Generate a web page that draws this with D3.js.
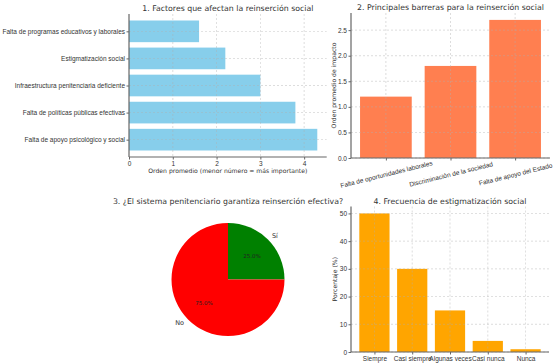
<!DOCTYPE html>
<html>
<head>
<meta charset="utf-8">
<script src="https://cdnjs.cloudflare.com/ajax/libs/d3/7.8.5/d3.min.js"></script>
<style>
    body { margin: 0; padding: 0; background: #fff; }
    svg { font-family: "DejaVu Sans", sans-serif; }
    .grid line { stroke: #b0b0b0; stroke-dasharray: 2,2; stroke-width: 0.6; opacity: 0.7; }
    .axis path, .axis line { stroke: #666; }
    .axis text { fill: #333; font-size: 6.5px; }
    .title { fill: #333; font-size: 7.8px; text-anchor: middle; }
    .label { fill: #333; font-size: 6.1px; text-anchor: middle; }
</style>
</head>
<body>
<script>
// 1. factores (top to bottom)
var factores = ["Falta de programas educativos y laborales", "Estigmatización social",
    "Infraestructura penitenciaria deficiente", "Falta de políticas públicas efectivas",
    "Falta de apoyo psicológico y social"];
var ordenFactores = [1.6, 2.2, 3.0, 3.8, 4.3];
var ticksFactores = [0, 1, 2, 3, 4];

// 2. barreras
var barreras = ["Falta de oportunidades laborales", "Discriminación de la sociedad", "Falta de apoyo del Estado"];
var impacto = [1.2, 1.8, 2.7];
var ticksImpacto = [0, 0.5, 1, 1.5, 2, 2.5];

// 3. pie
var respuestas = ["Sí", "No"];
var porcentajes = [25, 75];

// 4. frecuencia
var frecuencias = ["Siempre", "Casi siempre", "Algunas veces", "Casi nunca", "Nunca"];
var porcentajeFrec = [50, 30, 15, 4, 1];
var ticksFrec = [0, 10, 20, 30, 40, 50];

var W = 555, H = 363;
var svg = d3.select("body").append("svg").attr("width", W).attr("height", H);

function spines(g, x0, x1, y0, y1) {
    g.append("line").attr("x1", x0).attr("x2", x0).attr("y1", y0).attr("y2", y1)
        .attr("stroke", "#666").attr("stroke-width", 1.2);
    g.append("line").attr("x1", x0).attr("x2", x1).attr("y1", y1).attr("y2", y1)
        .attr("stroke", "#666").attr("stroke-width", 1.2);
}

// ---------- panel 1 ----------
(function() {
    var L = 129, R = 326.7, T = 14, B = 157;
    var g = svg.append("g");
    var x = d3.scaleLinear().domain([0, 4.3 * 1.05]).range([L, R]);
    var y = d3.scaleLinear().domain([-0.64, 4.64]).range([T, B]);
    var idx = d3.range(factores.length);

    g.selectAll("rect").data(idx).enter().append("rect")
        .attr("x", x(0))
        .attr("y", function(i) { return y(i - 0.4); })
        .attr("width", function(i) { return x(ordenFactores[i]) - x(0); })
        .attr("height", function(i) { return y(i + 0.4) - y(i - 0.4); })
        .attr("fill", "#87CEEB");

    var grid = g.append("g").attr("class", "grid");
    grid.selectAll(".v").data(ticksFactores.slice(1)).enter().append("line")
        .attr("x1", x).attr("x2", x).attr("y1", T).attr("y2", B);
    grid.selectAll(".h").data(idx).enter().append("line")
        .attr("x1", L).attr("x2", R).attr("y1", y).attr("y2", y);

    g.append("g").attr("class", "axis").attr("transform", "translate(0," + B + ")")
        .call(d3.axisBottom(x).tickValues(ticksFactores).tickFormat(d3.format("d")).tickSize(2.5).tickPadding(1.5))
        .select(".domain").remove();
    g.append("g").attr("class", "axis").attr("transform", "translate(" + L + ",0)")
        .call(d3.axisLeft(y).tickValues(idx).tickFormat(function(i) { return factores[i]; })
            .tickSize(2.5).tickPadding(1.5))
        .select(".domain").remove();
    spines(g, L, R, T, B);

    g.append("text").attr("class", "title").attr("x", (L + R) / 2).attr("y", 11)
        .text("1. Factores que afectan la reinserción social");
    g.append("text").attr("class", "label").attr("x", (L + R) / 2).attr("y", 173)
        .text("Orden promedio (menor número = más importante)");
})();

// ---------- panel 2 ----------
(function() {
    var L = 351, R = 550, T = 13, B = 158;
    var g = svg.append("g");
    var x = d3.scaleLinear().domain([-0.54, 2.54]).range([L, R]);
    var y = d3.scaleLinear().domain([0, 2.7 * 1.05]).range([B, T]);
    var idx = d3.range(barreras.length);

    g.selectAll("rect").data(idx).enter().append("rect")
        .attr("x", function(i) { return x(i - 0.4); })
        .attr("y", function(i) { return y(impacto[i]); })
        .attr("width", function(i) { return x(i + 0.4) - x(i - 0.4); })
        .attr("height", function(i) { return y(0) - y(impacto[i]); })
        .attr("fill", "#FF7F50");

    var grid = g.append("g").attr("class", "grid");
    grid.selectAll(".v").data(idx).enter().append("line")
        .attr("x1", x).attr("x2", x).attr("y1", T).attr("y2", B);
    grid.selectAll(".h").data(ticksImpacto).enter().append("line")
        .attr("x1", L).attr("x2", R).attr("y1", y).attr("y2", y);

    g.append("g").attr("class", "axis").attr("transform", "translate(" + L + ",0)")
        .call(d3.axisLeft(y).tickValues(ticksImpacto).tickFormat(d3.format(".1f")).tickSize(2.5).tickPadding(1.5))
        .select(".domain").remove();
    var xa = g.append("g").attr("class", "axis").attr("transform", "translate(0," + B + ")")
        .call(d3.axisBottom(x).tickValues(idx).tickFormat(function(i) { return barreras[i]; })
            .tickSize(2.5).tickPadding(1.5));
    xa.select(".domain").remove();
    xa.selectAll("text")
        .attr("y", 0).attr("dy", 0)
        .attr("dominant-baseline", "central")
        .attr("transform", "translate(0,16) rotate(-14)");
    spines(g, L, R, T, B);

    g.append("text").attr("class", "title").attr("x", (L + R) / 2).attr("y", 10)
        .text("2. Principales barreras para la reinserción social");
    g.append("text").attr("class", "label")
        .attr("transform", "translate(336," + ((T + B) / 2) + ") rotate(-90)")
        .text("Orden promedio de impacto");
})();

// ---------- panel 3 ----------
(function() {
    var cx = 228, cy = 279.5, r = 56.5;
    var g = svg.append("g").attr("transform", "translate(" + cx + "," + cy + ")");
    var colores = ["#008000", "#FF0000"];
    // matplotlib: counterclockwise from 3 o'clock
    var pie = d3.pie().sort(null).startAngle(Math.PI / 2).endAngle(Math.PI / 2 - 2 * Math.PI);
    var arcs = pie(porcentajes);
    var arc = d3.arc().innerRadius(0).outerRadius(r);
    g.selectAll("path").data(arcs).enter().append("path")
        .attr("d", arc).attr("fill", function(d, i) { return colores[i]; });

    function pos(d, k) {
        var a = (d.startAngle + d.endAngle) / 2;
        return [k * r * Math.sin(a), -k * r * Math.cos(a)];
    }
    g.selectAll(".lab").data(arcs).enter().append("text")
        .attr("x", function(d) { return pos(d, 1.1)[0]; })
        .attr("y", function(d) { return pos(d, 1.1)[1]; })
        .attr("dominant-baseline", "central")
        .attr("text-anchor", function(d, i) { return i == 0 ? "start" : "end"; })
        .attr("fill", "#333").attr("font-size", "6.5px")
        .text(function(d, i) { return respuestas[i]; });
    g.selectAll(".pct").data(arcs).enter().append("text")
        .attr("x", function(d) { return pos(d, 0.6)[0]; })
        .attr("y", function(d) { return pos(d, 0.6)[1]; })
        .attr("dominant-baseline", "central")
        .attr("text-anchor", "middle")
        .attr("fill", "#222").attr("font-size", "5.5px")
        .text(function(d, i) { return porcentajes[i].toFixed(1) + "%"; });

    svg.append("text").attr("class", "title").attr("x", cx).attr("y", 204)
        .text("3. ¿El sistema penitenciario garantiza reinserción efectiva?");
})();

// ---------- panel 4 ----------
(function() {
    var L = 351, R = 549, T = 206.5, B = 352;
    var g = svg.append("g");
    var x = d3.scaleLinear().domain([-0.62, 4.62]).range([L, R]);
    var y = d3.scaleLinear().domain([0, 52.5]).range([B, T]);
    var idx = d3.range(frecuencias.length);

    g.selectAll("rect").data(idx).enter().append("rect")
        .attr("x", function(i) { return x(i - 0.4); })
        .attr("y", function(i) { return y(porcentajeFrec[i]); })
        .attr("width", function(i) { return x(i + 0.4) - x(i - 0.4); })
        .attr("height", function(i) { return y(0) - y(porcentajeFrec[i]); })
        .attr("fill", "#FFA500");

    var grid = g.append("g").attr("class", "grid");
    grid.selectAll(".v").data(idx).enter().append("line")
        .attr("x1", x).attr("x2", x).attr("y1", T).attr("y2", B);
    grid.selectAll(".h").data(ticksFrec).enter().append("line")
        .attr("x1", L).attr("x2", R).attr("y1", y).attr("y2", y);

    g.append("g").attr("class", "axis").attr("transform", "translate(" + L + ",0)")
        .call(d3.axisLeft(y).tickValues(ticksFrec).tickSize(2.5).tickPadding(1.5))
        .select(".domain").remove();
    g.append("g").attr("class", "axis").attr("transform", "translate(0," + B + ")")
        .call(d3.axisBottom(x).tickValues(idx).tickFormat(function(i) { return frecuencias[i]; })
            .tickSize(2.5).tickPadding(1.5))
        .select(".domain").remove();
    spines(g, L, R, T, B);

    g.append("text").attr("class", "title").attr("x", (L + R) / 2).attr("y", 204)
        .text("4. Frecuencia de estigmatización social");
    g.append("text").attr("class", "label")
        .attr("transform", "translate(337," + ((T + B) / 2) + ") rotate(-90)")
        .text("Porcentaje (%)");
})();
</script>
</body>
</html>
